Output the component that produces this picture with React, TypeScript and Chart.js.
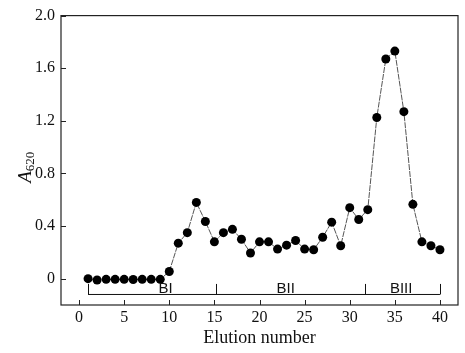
import React, { useEffect, useRef } from "react";
import { Chart, registerables } from "chart.js";

Chart.register(...registerables);

const elutionNumbers = [
  1, 2, 3, 4, 5, 6, 7, 8, 9, 10, 11, 12, 13, 14, 15, 16, 17, 18, 19, 20,
  21, 22, 23, 24, 25, 26, 27, 28, 29, 30, 31, 32, 33, 34, 35, 36, 37, 38, 39, 40,
];
const a620 = [
  0.0, -0.01, -0.005, -0.005, -0.005, -0.006, -0.005, -0.005, -0.005, 0.055,
  0.27, 0.35, 0.58, 0.435, 0.28, 0.35, 0.375, 0.3, 0.195, 0.28,
  0.28, 0.225, 0.255, 0.29, 0.225, 0.22, 0.315, 0.43, 0.25, 0.54,
  0.45, 0.525, 1.225, 1.67, 1.73, 1.27, 0.565, 0.28, 0.25, 0.22,
];
const xTicks = [0, 5, 10, 15, 20, 25, 30, 35, 40];
const yTicks = [0, 0.4, 0.8, 1.2, 1.6, 2.0];
const fractionBounds = [1, 15.2, 31.7, 40];
const fractionLabels = ["BI", "BII", "BIII"];
const fractionLabelAt = [9.6, 22.9, 35.7];
const bracketLevel = -0.12;
const bracketTop = -0.04;

export default function App() {
  const ref = useRef<HTMLCanvasElement | null>(null);
  useEffect(() => {
    document.body.style.margin = "0";
    const canvas = ref.current!;
    const serif = "'Liberation Serif', 'Times New Roman', serif";

    const framePlugin = {
      id: "frame",
      afterDraw(chart: any) {
        const { ctx, chartArea: a, scales } = chart;
        const xs = scales.x;
        const ys = scales.y;
        ctx.save();
        ctx.strokeStyle = "#222";
        ctx.lineWidth = 1.2;
        ctx.strokeRect(a.left, a.top, a.right - a.left, a.bottom - a.top);
        ctx.lineWidth = 1;
        ctx.beginPath();
        xTicks.forEach((v) => {
          const px = Math.round(xs.getPixelForValue(v)) + 0.5;
          ctx.moveTo(px, a.bottom);
          ctx.lineTo(px, a.bottom - 5);
        });
        yTicks.forEach((v) => {
          const py = Math.round(ys.getPixelForValue(v)) + 0.5;
          ctx.moveTo(a.left, py);
          ctx.lineTo(a.left + 5, py);
        });
        ctx.stroke();

        // fraction brackets
        const yLine = ys.getPixelForValue(bracketLevel);
        const yTop = ys.getPixelForValue(bracketTop);
        ctx.strokeStyle = "#111";
        ctx.lineWidth = 1;
        ctx.beginPath();
        ctx.moveTo(xs.getPixelForValue(fractionBounds[0]), yLine);
        ctx.lineTo(xs.getPixelForValue(fractionBounds[fractionBounds.length - 1]), yLine);
        fractionBounds.forEach((b) => {
          const px = Math.round(xs.getPixelForValue(b)) + 0.5;
          ctx.moveTo(px, yLine);
          ctx.lineTo(px, yTop);
        });
        ctx.stroke();
        ctx.fillStyle = "#111";
        ctx.font = "15px 'Liberation Sans', Arial, sans-serif";
        ctx.textAlign = "center";
        ctx.textBaseline = "alphabetic";
        fractionLabels.forEach((t, i) => {
          ctx.fillText(t, xs.getPixelForValue(fractionLabelAt[i]), yLine - 1);
        });

        // y title A620
        ctx.save();
        ctx.translate(26, (a.top + a.bottom) / 2 + 7);
        ctx.rotate(-Math.PI / 2);
        ctx.textAlign = "left";
        ctx.textBaseline = "middle";
        ctx.font = "italic 19px " + serif;
        const wA = ctx.measureText("A").width;
        ctx.font = "13px " + serif;
        const wS = ctx.measureText("620").width;
        const total = wA + wS;
        ctx.font = "italic 19px " + serif;
        ctx.fillText("A", -total / 2, 0);
        ctx.font = "13px " + serif;
        ctx.fillText("620", -total / 2 + wA, 5);
        ctx.restore();
        ctx.restore();
      },
    };

    const chart = new Chart(canvas, {
      type: "line",
      data: {
        labels: elutionNumbers,
        datasets: [
          {
            data: elutionNumbers.map((x, i) => ({ x, y: a620[i] })),
            borderColor: "#555",
            borderWidth: 1,
            borderDash: [6, 1],
            pointRadius: 4.5,
            pointBackgroundColor: "#000",
            pointBorderColor: "#000",
            pointBorderWidth: 0,
            tension: 0,
          },
        ],
      },
      options: {
        responsive: false,
        animation: false,
        layout: { padding: { left: 0, top: 13, right: 7, bottom: 0 } },
        plugins: { legend: { display: false }, tooltip: { enabled: false } },
        scales: {
          x: {
            type: "linear",
            min: -2,
            max: 42,
            afterBuildTicks: (s: any) => {
              s.ticks = xTicks.map((v) => ({ value: v }));
            },
            afterFit: (s: any) => {
              s.height = 48;
            },
            grid: { display: false, drawTicks: false },
            border: { display: false },
            ticks: {
              color: "#111",
              padding: 3,
              maxRotation: 0,
              font: { family: serif, size: 16 },
              callback: (v: any) => String(v),
            },
            title: {
              display: true,
              text: "Elution number",
              color: "#111",
              font: { family: serif, size: 18 },
              padding: { top: 0, bottom: 4 },
            },
          },
          y: {
            type: "linear",
            min: -0.2,
            max: 2.0,
            afterBuildTicks: (s: any) => {
              s.ticks = yTicks.map((v) => ({ value: v }));
            },
            afterFit: (s: any) => {
              s.width = 61;
            },
            grid: { display: false, drawTicks: false },
            border: { display: false },
            ticks: {
              color: "#111",
              padding: 6,
              font: { family: serif, size: 16 },
              callback: (v: any) => (v === 0 ? "0" : Number(v).toFixed(1)),
            },
          },
        },
      },
      plugins: [framePlugin],
    } as any);
    return () => chart.destroy();
  }, []);
  return (
    <div style={{ width: 465, height: 353 }}>
      <canvas ref={ref} width={465} height={353} />
    </div>
  );
}
